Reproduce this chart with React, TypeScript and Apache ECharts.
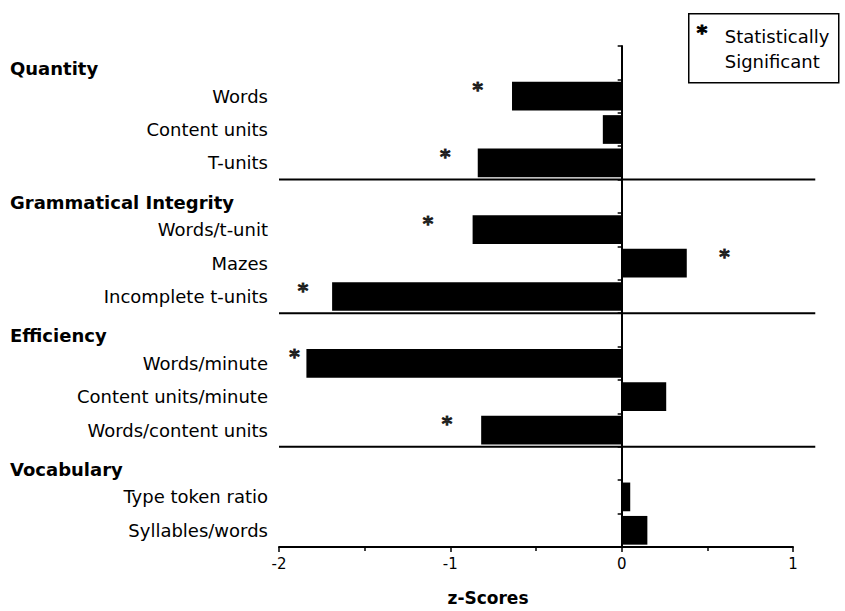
import React, { useEffect, useRef } from "react";
import * as echarts from "echarts";

const groupNames = ["Quantity", "Grammatical Integrity", "Efficiency", "Vocabulary"];
const groupMeasures = [
  ["Words", "Content units", "T-units"],
  ["Words/t-unit", "Mazes", "Incomplete t-units"],
  ["Words/minute", "Content units/minute", "Words/content units"],
  ["Type token ratio", "Syllables/words"],
];
const zScores = [-0.64, -0.11, -0.84, -0.87, 0.38, -1.69, -1.84, 0.26, -0.82, 0.05, 0.15];
const starX = [-0.84, null, -1.03, -1.13, 0.6, -1.86, -1.91, null, -1.02, null, null];
const xTicks = { min: -2, max: 1, interval: 1 };
const separatorEnd = 1.13;
const legendText = ["Statistically", "Significant"];
const axisName = "z-Scores";

const FONT = "DejaVu Sans";

export default function App() {
  const ref = useRef<HTMLDivElement>(null);
  useEffect(() => {
    document.body.style.margin = "0";
    const chart = echarts.init(ref.current!, null, { renderer: "svg" });

    const categories: string[] = [];
    const barData: any[] = [];
    const starData: any[] = [];
    const sepData: any[] = [];
    let m = 0;
    groupNames.forEach((g, gi) => {
      if (gi > 0) sepData.push([xTicks.min, categories.length]);
      categories.push(g);
      barData.push("-");
      groupMeasures[gi].forEach((name) => {
        categories.push(name);
        barData.push(zScores[m]);
        if (starX[m] !== null) starData.push([starX[m], name]);
        m++;
      });
    });

    chart.setOption({
      animation: false,
      grid: { left: 279, right: 52, top: 46, bottom: 63, containLabel: false },
      xAxis: {
        type: "value",
        min: xTicks.min,
        max: xTicks.max,
        interval: xTicks.interval,
        splitLine: { show: false },
        axisLine: { show: true, lineStyle: { color: "#000", width: 2 } },
        axisTick: { show: true, length: 5, lineStyle: { color: "#000", width: 1.5 } },
        minorTick: { show: true, splitNumber: 2, length: 4, lineStyle: { color: "#000", width: 1.5 } },
        axisLabel: { color: "#000", fontSize: 15, fontFamily: FONT, margin: 9 },
        name: axisName,
        nameLocation: "middle",
        nameGap: 42,
        nameTextStyle: {
          color: "#000",
          fontSize: 17,
          fontWeight: "bold",
          fontFamily: FONT,
          padding: [0, 96, 0, 0],
        },
      },
      yAxis: {
        type: "category",
        inverse: true,
        data: categories,
        axisLine: { show: true, lineStyle: { color: "#000", width: 2 } },
        axisTick: { show: true, length: 4, alignWithLabel: false, lineStyle: { color: "#000", width: 1.5 } },
        axisLabel: {
          interval: 0,
          color: "#000",
          fontSize: 18,
          fontFamily: FONT,
          margin: 11,
          formatter: (v: string) => (groupNames.includes(v) ? `{h|${v}}` : v),
          rich: {
            h: {
              fontWeight: "bold",
              fontSize: 18,
              fontFamily: FONT,
              color: "#000",
              width: 258,
              align: "left",
              padding: [12, 0, 0, 0],
            },
          },
        },
      },
      series: [
        {
          type: "bar",
          data: barData,
          barWidth: "86%",
          itemStyle: { color: "#000" },
          markLine: {
            silent: true,
            symbol: "none",
            label: { show: false },
            lineStyle: { color: "#000", width: 1.5, type: "solid" },
            data: [{ xAxis: 0 }],
          },
        },
        {
          type: "scatter",
          data: starData,
          symbolSize: 1,
          itemStyle: { color: "rgba(0,0,0,0)" },
          label: {
            show: true,
            position: "inside",
            offset: [0, -7],
            formatter: "*",
            color: "#000",
            textBorderColor: "#000",
            textBorderWidth: 1,
            fontSize: 20,
            fontWeight: "bold",
            fontFamily: FONT,
          },
        },
        {
          type: "custom",
          clip: false,
          silent: true,
          data: sepData,
          encode: { x: 0, y: 1 },
          renderItem: (params: any, api: any) => {
            const p = api.coord([api.value(0), api.value(1)]);
            const h = api.size([0, 1])[1];
            const end = api.coord([separatorEnd, api.value(1)]);
            const y = p[1] - h / 2;
            return {
              type: "line",
              shape: { x1: p[0], y1: y, x2: end[0], y2: y },
              style: { stroke: "#000", lineWidth: 2 },
            };
          },
        },
      ],
      graphic: [
        {
          type: "group",
          left: 688,
          top: 13,
          children: [
            {
              type: "rect",
              shape: { x: 0, y: 0, width: 150, height: 69 },
              style: { fill: "#fff", stroke: "#000", lineWidth: 1.5 },
            },
            {
              type: "text",
              x: 8,
              y: 8,
              style: { text: "*", font: `bold 20px '${FONT}'`, fill: "#000", stroke: "#000", lineWidth: 1 },
            },
            {
              type: "text",
              x: 36,
              y: 10,
              style: {
                text: legendText.join("\n"),
                font: `18px '${FONT}'`,
                lineHeight: 25,
                fill: "#000",
              },
            },
          ],
        },
      ],
    });
    return () => chart.dispose();
  }, []);
  return <div ref={ref} style={{ width: 845, height: 611 }} />;
}
